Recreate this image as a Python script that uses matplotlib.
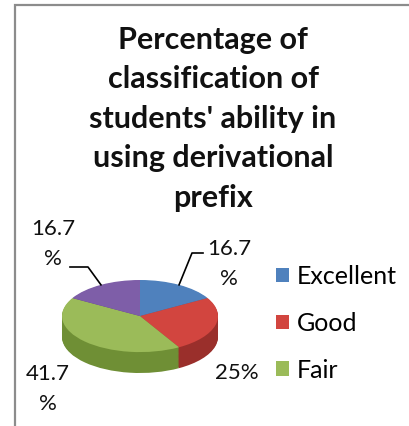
import matplotlib
matplotlib.use("Agg")
import numpy as np
import matplotlib.pyplot as plt
from matplotlib.lines import Line2D
from matplotlib.patches import Rectangle
from matplotlib.transforms import IdentityTransform

W, H = 409, 426

categories = ["Excellent", "Good", "Fair", "Poor"]
values = [16.7, 25.0, 41.7, 16.7]
label_texts = ["16.7\n%", "25%", "41.7\n%", "16.7\n%"]
top_colors = ["#4F81BD", "#D2453F", "#9BBB59", "#7E5EA8"]
side_colors = ["#34659E", "#9A2F2B", "#6F8F35", "#5A427C"]
title = "Percentage of\nclassification of\nstudents' ability in\nusing derivational\nprefix"

plt.rcParams["font.family"] = ["Lato", "DejaVu Sans"]


def px(x, y):
    # image pixel (y from top) -> figure fraction
    return x / W, 1 - y / H


fig = plt.figure(figsize=(W / 100, H / 100), dpi=100)

# chart border, cut off on the right and bottom like the screenshot
x0, y0 = px(15, 5)
fig.add_artist(Rectangle((x0, -1), 2, y0 + 1, transform=fig.transFigure,
                         fill=False, edgecolor="#8c8c8c", linewidth=1.6))

fig.text(*px(213, 26), title, ha="center", va="top", fontsize=22,
         fontweight="bold", linespacing=1.5, color="#111111")

# pie area: top face ellipse plus a thickness drawn as stacked, darker pies
depth = 0.58
ax = fig.add_axes([62 / W, 1 - 373 / H, 156 / W, 93 / H])
for off in np.linspace(depth, 0.02, 25):
    ax.pie(values, colors=side_colors, startangle=90, counterclock=False,
           center=(0, -off), wedgeprops=dict(linewidth=0))
wedges, _ = ax.pie(values, colors=top_colors, startangle=90, counterclock=False,
                   wedgeprops=dict(linewidth=0))
ax.set_aspect("auto")
ax.set_xlim(-1, 1)
ax.set_ylim(-1 - depth, 1)
ax.axis("off")

# data labels
label_pos = [(229, 264), (237, 373), (48, 389), (53, 244)]
for txt, (lx, ly) in zip(label_texts, label_pos):
    fig.text(*px(lx, ly), txt, ha="center", va="center", fontsize=16,
             linespacing=1.6, color="#111111")

# leader lines for the two small slices
fig.canvas.draw()
cum = np.cumsum([0] + values[:-1])
mids = 90 - (cum + np.array(values) / 2) / sum(values) * 360
leaders = {0: [(192, 253), (203, 253)], 3: [(88, 267), (70, 267)]}
for i, pts in leaders.items():
    a = np.deg2rad(mids[i])
    sx, sy = ax.transData.transform((np.cos(a), np.sin(a)))
    xs = [sx] + [p[0] for p in pts]
    ys = [sy] + [H - p[1] for p in pts]
    fig.add_artist(Line2D(xs, ys, transform=IdentityTransform(),
                          color="black", linewidth=1.2))

fig.legend(wedges[:3], categories[:3], loc="upper left",
           bbox_to_anchor=px(276, 265), frameon=False, fontsize=18,
           handlelength=0.52, handleheight=0.52, handletextpad=0.3,
           labelspacing=0.95, borderpad=0, borderaxespad=0)

fig.savefig("out.png", dpi=100)
